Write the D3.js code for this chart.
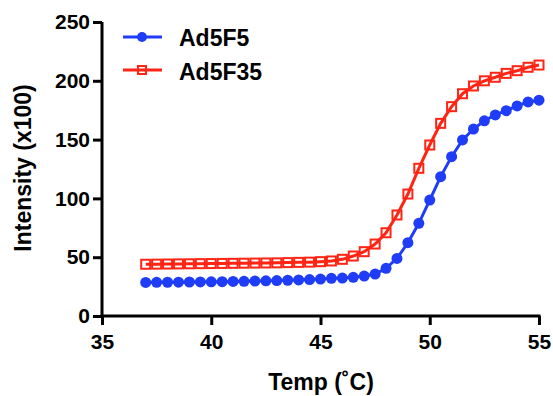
<!DOCTYPE html>
<html><head><meta charset="utf-8">
<script src="https://cdn.jsdelivr.net/npm/d3@7"></script>
<style>body{margin:0;background:#fff}svg{display:block}text{font-family:"Liberation Sans",Arial,sans-serif;font-weight:bold}</style>
</head><body>
<script>
const temps = [37,37.5,38,38.5,39,39.5,40,40.5,41,41.5,42,42.5,43,43.5,44,44.5,45,45.5,46,46.5,47,47.5,48,48.5,49,49.5,50,50.5,51,51.5,52,52.5,53,53.5,54,54.5,55];
const ad5f5 = [28.5,28.6,28.7,28.8,28.9,29.0,29.1,29.2,29.4,29.5,29.7,29.9,30.1,30.4,30.7,31.0,31.4,32.0,32.3,32.9,34.0,35.7,40.5,49,62.3,78.8,98.6,118.5,135.5,149.7,159,166,171,174.6,178.6,182,183.5];
const ad5f35 = [44.0,44.1,44.2,44.3,44.4,44.5,44.6,44.7,44.8,44.9,45.0,45.1,45.2,45.4,45.6,45.8,46.2,46.8,48.2,51,54.7,61.2,70.8,85.9,103.7,125.6,145.4,163.8,178,189,195.6,200,203,206.3,208.6,211.5,213.4];
const xTicks = [35,40,45,50,55];
const yTicks = [0,50,100,150,200,250];
const seriesNames = ["Ad5F5","Ad5F35"];
const colors = ["#1f3cf7","#ff2414"];

const W=553,H=396;
const svg=d3.select("body").append("svg").attr("width",W).attr("height",H);
const x=d3.scaleLinear().domain([35,55]).range([102,539]);
const y=d3.scaleLinear().domain([0,250]).range([316,22]);

const xAxis=svg.append("g").attr("transform","translate(0,316)")
  .call(d3.axisBottom(x).tickValues(xTicks).tickSize(9).tickPadding(9));
const yAxis=svg.append("g").attr("transform","translate(102,0)")
  .call(d3.axisLeft(y).tickValues(yTicks).tickSize(9).tickPadding(3));
[xAxis,yAxis].forEach(g=>{
  g.select(".domain").attr("stroke","#000").attr("stroke-width",3);
  g.selectAll(".tick line").attr("stroke","#000").attr("stroke-width",3);
  g.selectAll(".tick text").attr("fill","#000").style("font-size","21px").style("font-weight","bold").style("font-family","Liberation Sans, Arial, sans-serif");
});
xAxis.select(".domain").attr("d","M"+(x(35)-1.5)+",0H"+(x(55)+1.5));
yAxis.select(".domain").attr("d","M0,"+(y(250))+"V"+(y(0)+1.5));

svg.append("text").attr("x",321).attr("y",390).attr("text-anchor","middle").style("font-size","23px").text("Temp (˚C)");
svg.append("text").attr("transform","translate(31,168) rotate(-90)").attr("text-anchor","middle").style("font-size","23px").text("Intensity (x100)");

const line=d3.line().x(d=>x(d[0])).y(d=>y(d[1]));
const d1=temps.map((t,i)=>[t,ad5f5[i]]);
const d2=temps.map((t,i)=>[t,ad5f35[i]]);

// red series
svg.append("path").datum(d2).attr("d",line).attr("fill","none").attr("stroke",colors[1]).attr("stroke-width",3);
svg.selectAll(".sq").data(d2).enter().append("rect")
  .attr("x",d=>x(d[0])-4.5).attr("y",d=>y(d[1])-4.5).attr("width",9).attr("height",9)
  .attr("fill","none").attr("stroke",colors[1]).attr("stroke-width",2);
// blue series
svg.append("path").datum(d1).attr("d",line).attr("fill","none").attr("stroke",colors[0]).attr("stroke-width",3);
svg.selectAll(".ci").data(d1).enter().append("circle")
  .attr("cx",d=>x(d[0])).attr("cy",d=>y(d[1])).attr("r",5.5).attr("fill",colors[0]);

// legend
const lg=[{n:seriesNames[0],c:colors[0],y:37,ty:46,m:"c"},{n:seriesNames[1],c:colors[1],y:70,ty:80,m:"s"}];
lg.forEach(o=>{
  svg.append("line").attr("x1",123).attr("x2",162).attr("y1",o.y).attr("y2",o.y).attr("stroke",o.c).attr("stroke-width",3);
  if(o.m==="c") svg.append("circle").attr("cx",142).attr("cy",o.y).attr("r",5).attr("fill",o.c);
  else svg.append("rect").attr("x",138).attr("y",o.y-4).attr("width",8).attr("height",8).attr("fill","none").attr("stroke",o.c).attr("stroke-width",2);
  svg.append("text").attr("x",179).attr("y",o.ty).style("font-size","23px").text(o.n);
});
</script>
</body></html>
